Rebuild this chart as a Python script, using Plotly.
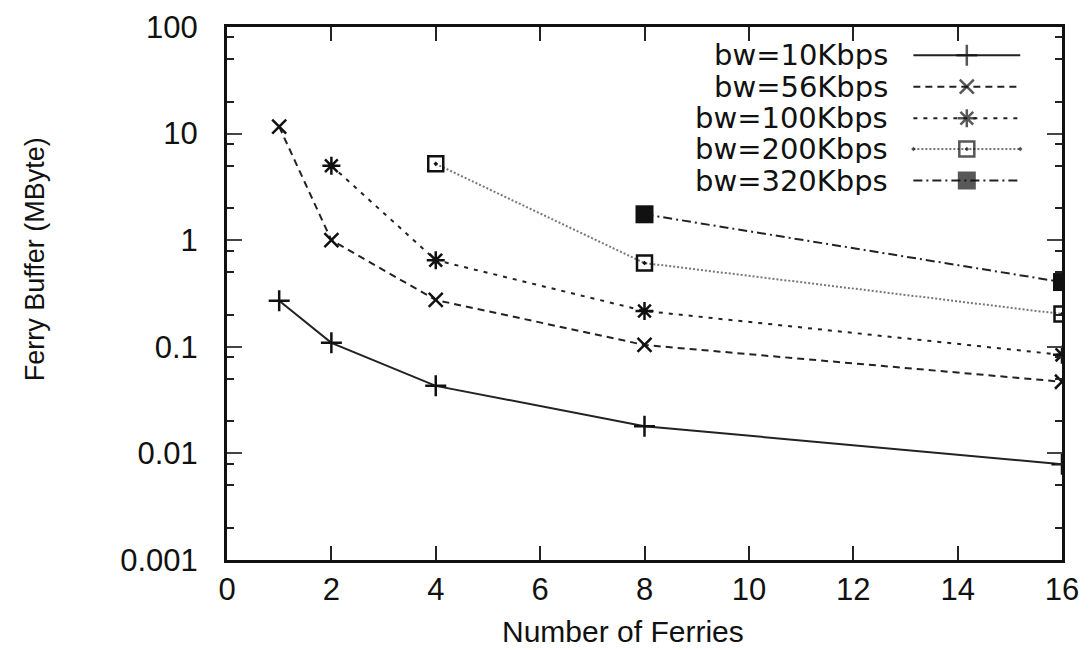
import plotly.graph_objects as go

# ---- data ----
ferries_10 = [1, 2, 4, 8, 16]
buf_10 = [0.27, 0.109, 0.043, 0.018, 0.0079]
ferries_56 = [1, 2, 4, 8, 16]
buf_56 = [11.6, 1.0, 0.275, 0.104, 0.047]
ferries_100 = [2, 4, 8, 16]
buf_100 = [5.0, 0.65, 0.217, 0.084]
ferries_200 = [4, 8, 16]
buf_200 = [5.2, 0.61, 0.203]
ferries_320 = [8, 16]
buf_320 = [1.75, 0.405]

series_names = ["bw=10Kbps", "bw=56Kbps", "bw=100Kbps", "bw=200Kbps", "bw=320Kbps"]
x_ticks = [0, 2, 4, 6, 8, 10, 12, 14, 16]
y_tickvals = [0.001, 0.01, 0.1, 1, 10, 100]
y_ticktext = ["0.001", "0.01", "0.1", "1", "10", "100"]
y_minor_mult = [2, 5, 8]
y_minor = [m * 10 ** e for e in range(-3, 2) for m in y_minor_mult]

styles = [
    dict(dash="solid", color="#222", symbol="cross-thin", size=15, mlw=2.5),
    dict(dash="7px,5px", color="#222", symbol="x-thin", size=14, mlw=2.5),
    dict(dash="4px,6px", color="#222", symbol="asterisk-open", size=15, mlw=2.5),
    dict(dash="2px,2px", color="#777", symbol="square-open-dot", size=15, mlw=2.5),
    dict(dash="9px,4px,2px,4px", color="#222", symbol="square", size=18, mlw=0),
]

data = [
    (ferries_10, buf_10),
    (ferries_56, buf_56),
    (ferries_100, buf_100),
    (ferries_200, buf_200),
    (ferries_320, buf_320),
]

FONT = "Liberation Sans, Arial, sans-serif"
LEG_FONT = "DejaVu Sans, Liberation Sans, sans-serif"

fig = go.Figure()
for (xs, ys), name, st in zip(data, series_names, styles):
    fig.add_trace(go.Scatter(
        x=xs, y=ys, name=name, mode="lines+markers",
        line=dict(color=st["color"], width=2, dash=st["dash"]),
        marker=dict(symbol=st["symbol"], size=st["size"], color="#111",
                    line=dict(color="#111", width=st["mlw"])),
        showlegend=False,
    ))

# ---- gnuplot-style legend (text left, sample right) on an overlay axis ----
legend_y = [0.947, 0.888, 0.829, 0.771, 0.712]
for name, st, ly in zip(series_names, styles, legend_y):
    fig.add_trace(go.Scatter(
        x=[0.822, 0.886, 0.950], y=[ly, ly, ly], xaxis="x2", yaxis="y2",
        mode="lines+markers", showlegend=False, hoverinfo="skip",
        line=dict(color=st["color"], width=2, dash=st["dash"]),
        marker=dict(symbol=st["symbol"], size=[0, st["size"], 0], color="#111",
                    line=dict(color="#111", width=st["mlw"])),
    ))
    fig.add_annotation(
        x=0.794, y=ly, xref="x2", yref="y2", text=name, showarrow=False,
        xanchor="right", yanchor="middle", height=28,
        font=dict(family=LEG_FONT, size=29, color="#111"),
    )

# axis titles as annotations (positioned like the reference)
fig.add_annotation(
    x=0.474, y=-0.134, xref="paper", yref="paper", text="Number of Ferries",
    showarrow=False, xanchor="center", yanchor="middle",
    font=dict(family=FONT, size=30, color="#111"),
)
fig.add_annotation(
    x=-0.230, y=0.564, xref="paper", yref="paper", text="Ferry Buffer (MByte)",
    showarrow=False, xanchor="center", yanchor="middle", textangle=-90,
    font=dict(family=FONT, size=27, color="#111"),
)

fig.update_layout(
    width=1090, height=650,
    margin=dict(l=219, r=36, t=19, b=98),
    paper_bgcolor="white", plot_bgcolor="white",
    font=dict(family=FONT, size=31, color="#111"),
    xaxis=dict(
        range=[0, 16], tickvals=x_ticks, ticks="inside", ticklen=14, tickwidth=2,
        tickcolor="#222", showline=True, linecolor="#111", linewidth=3, mirror="ticks",
        showgrid=False, zeroline=False, ticklabelstandoff=0, automargin=False,
        ticklabeloverflow="allow", tickfont=dict(size=31),
    ),
    yaxis=dict(
        type="log", range=[-3, 2], tickvals=y_tickvals, ticktext=y_ticktext,
        ticks="inside", ticklen=15, tickwidth=2, tickcolor="#444",
        showline=True, linecolor="#111", linewidth=3, mirror="ticks",
        showgrid=False, zeroline=False, ticklabelstandoff=20, automargin=False,
        ticklabeloverflow="allow",
        minor=dict(tickmode="array", tickvals=y_minor, ticks="inside", ticklen=7,
                   tickwidth=2, tickcolor="#222", showgrid=False),
        tickfont=dict(size=31),
    ),
    xaxis2=dict(overlaying="x", range=[0, 1], visible=False, fixedrange=True),
    yaxis2=dict(overlaying="y", range=[0, 1], visible=False, fixedrange=True),
    showlegend=False,
)

fig.write_html("out.html")
